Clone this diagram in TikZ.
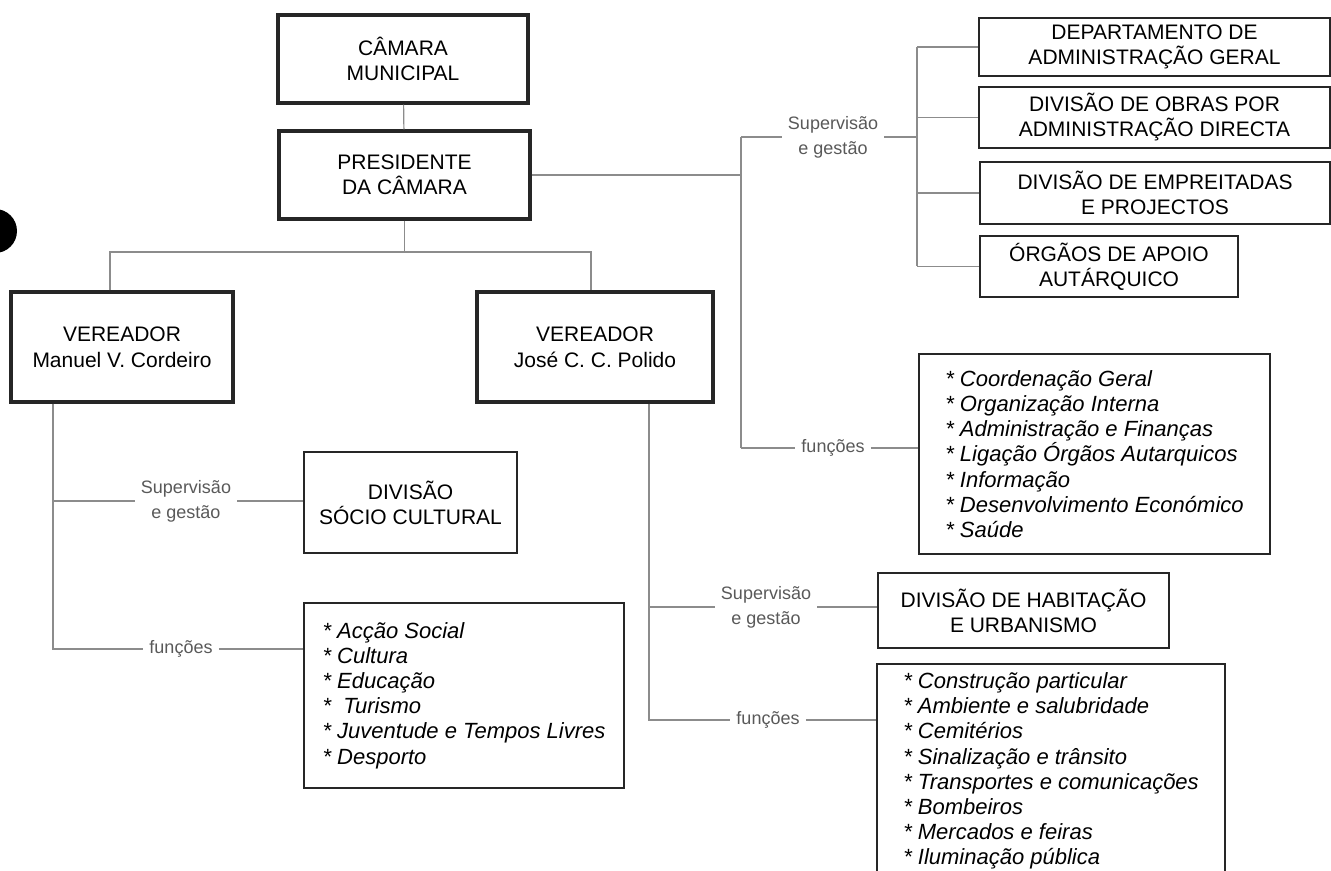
\documentclass[tikz,border=0pt]{standalone}
\usepackage{fontspec}
\setmainfont{Liberation Sans}

\begin{document}
\begin{tikzpicture}[
        x=0.5pt, y=-0.5pt,
        box/.style={rectangle, draw=black!85, line width=1pt, align=center, inner sep=0pt, font=\fontsize{10.5}{12.5}\selectfont},
        head/.style={box, line width=1.6pt},
        vere/.style={head, font=\fontsize{10.5}{13}\selectfont},
        list/.style={box, align=left, font=\fontsize{11}{12.6}\selectfont\itshape},
        tag/.style={inner xsep=3pt, inner ysep=0pt, align=center, text=black!65, font=\fontsize{9}{12.5}\selectfont},
        line/.style={draw, black!45, line width=0.6pt}
    ]
        \useasboundingbox (0,0) rectangle (1331,871);
        \fill [black] (-5,231) circle (11pt);

        % Nodes
        \node [head, minimum width=125pt, minimum height=44pt] (camara) at (403,59) {CÂMARA\\MUNICIPAL};
        \node [head, minimum width=125.5pt, minimum height=44pt] (pres) at (404.5,175) {PRESIDENTE\\DA CÂMARA};
        \node [vere, minimum width=111pt, minimum height=55pt] (verManuel) at (122,347) {VEREADOR\\Manuel V. Cordeiro};
        \node [vere, minimum width=118pt, minimum height=55pt] (verJose) at (595,347) {VEREADOR\\José C. C. Polido};

        \node [box, minimum width=175.5pt, minimum height=29pt] (dag) at (1154.5,47) {DEPARTAMENTO DE\\ADMINISTRAÇÃO GERAL};
        \node [box, minimum width=175.5pt, minimum height=30.5pt] (dobras) at (1154.5,117.5) {DIVISÃO DE OBRAS POR\\ADMINISTRAÇÃO DIRECTA};
        \node [box, minimum width=175pt, minimum height=31pt] (demp) at (1155,193) {DIVISÃO DE EMPREITADAS\\E PROJECTOS};
        \node [box, minimum width=129pt, minimum height=30.5pt] (orgaos) at (1109,266.5) {ÓRGÃOS DE APOIO\\AUTÁRQUICO};
        \node [list, minimum width=175.5pt, minimum height=100pt] (funcPres) at (1094.5,454) {* Coordenação Geral\\* Organização Interna\\* Administração e Finanças\\* Ligação Órgãos Autarquicos\\* Informação\\* Desenvolvimento Económico\\* Saúde};

        \node [box, minimum width=106.5pt, minimum height=50.5pt] (dsc) at (410.5,502.5) {DIVISÃO\\SÓCIO CULTURAL};
        \node [list, minimum width=160pt, minimum height=92.5pt] (funcManuel) at (464,695.5) {* Acção Social\\* Cultura\\* Educação\\*\ \ Turismo\\* Juventude e Tempos Livres\\* Desporto};

        \node [box, minimum width=145.5pt, minimum height=37.5pt] (hab) at (1023.5,610.5) {DIVISÃO DE HABITAÇÃO\\E URBANISMO};
        \node [list, minimum width=174pt, minimum height=107pt] (funcJose) at (1051,771) {* Construção particular\\* Ambiente e salubridade\\* Cemitérios\\* Sinalização e trânsito\\* Transportes e comunicações\\* Bombeiros\\* Mercados e feiras\\* Iluminação pública};

        % Labels
        \node [tag] (supPres) at (833,137) {Supervisão\\e gestão};
        \node [tag] (funPres) at (833,448) {funções};
        \node [tag] (supManuel) at (186,501) {Supervisão\\e gestão};
        \node [tag] (funManuel) at (181,649) {funções};
        \node [tag] (supJose) at (766,607) {Supervisão\\e gestão};
        \node [tag] (funJose) at (768,720) {funções};

        \coordinate (barL) at (110,252);
        \coordinate (barR) at (591,252);
        \coordinate (presV) at (741,137);
        \coordinate (presF) at (741,448);
        \coordinate (bracket) at (917,137);
        \coordinate (manuelV) at (53,649);
        \coordinate (joseV) at (649,720);

        % Edges
        \path [line] (camara) -- (pres);
        \path [line] (pres) -- (pres |- barL);
        \path [line] (barL |- verManuel.north) -- (barL) -- (barR) -- (barR |- verJose.north);

        \path [line] (pres.east) -- (pres.east -| presV);
        \path [line] (presV) -- (presF);
        \path [line] (presV) -- (supPres) -- (bracket);
        \path [line] (bracket |- dag.west) -- (bracket |- orgaos.west);
        \foreach \d in {dag, dobras, demp, orgaos}
            \path [line] (bracket |- \d.west) -- (\d.west);
        \path [line] (presF) -- (funPres) -- (funPres.east -| funcPres.west);

        \path [line] (manuelV |- verManuel.south) -- (manuelV) -- (funManuel) -- (funManuel.east -| funcManuel.west);
        \path [line] (manuelV |- supManuel) -- (supManuel) -- (supManuel.east -| dsc.west);

        \path [line] (joseV |- verJose.south) -- (joseV) -- (funJose) -- (funJose.east -| funcJose.west);
        \path [line] (joseV |- supJose) -- (supJose) -- (supJose.east -| hab.west);
    \end{tikzpicture}
\end{document}
